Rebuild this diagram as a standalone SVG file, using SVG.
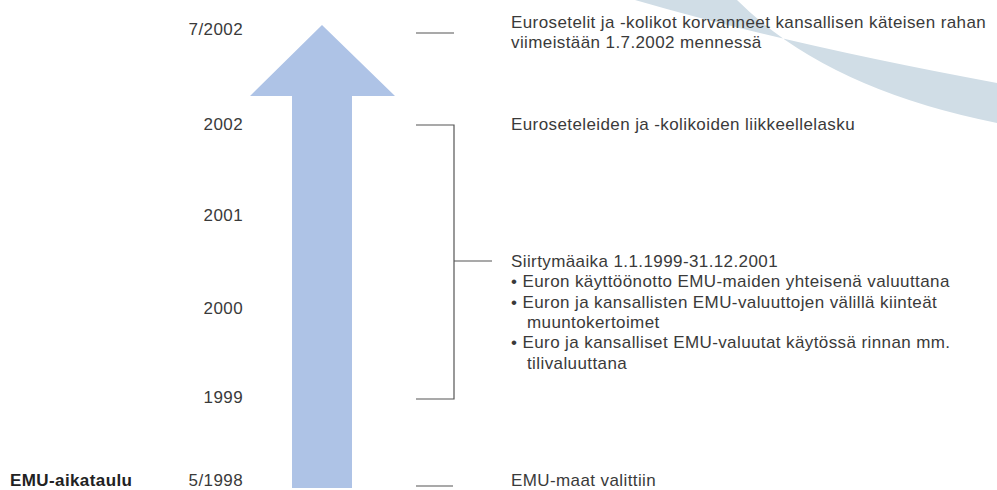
<svg xmlns="http://www.w3.org/2000/svg" width="997" height="490" viewBox="0 0 997 490">
<style>
text{font-family:"Liberation Sans",Arial,sans-serif;font-size:17px;fill:#3a3a3a;letter-spacing:0.4px}
.yr{text-anchor:end}
.b{font-weight:bold;fill:#222}
.ln{stroke:#555;stroke-width:1.2;fill:none}
</style>
<rect width="997" height="490" fill="#fff"/>
<path id="band" d="M635 0 Q790 45 997 83 L997 123 Q826 89 737 0 Z" fill="#d0dde6"/>
<g id="arrow"><polygon points="322,25 395,96 352,96 352,488 292,488 292,96 250,96" fill="#aec3e6"/></g>
<g id="title"><text class="b" x="10" y="486">EMU-aikataulu</text></g>
<g id="years">
<text class="yr" x="243" y="35">7/2002</text>
<text class="yr" x="243" y="130">2002</text>
<text class="yr" x="243" y="221">2001</text>
<text class="yr" x="243" y="314">2000</text>
<text class="yr" x="243" y="403">1999</text>
<text class="yr" x="243" y="486">5/1998</text>
</g>
<g id="connectors">
<line class="ln" x1="416" y1="33" x2="454" y2="33"/>
<polyline class="ln" points="416,125 454,125 454,399 416,399"/>
<line class="ln" x1="454" y1="261" x2="492" y2="261"/>
<line class="ln" x1="416" y1="486" x2="453" y2="486"/>
</g>
<g id="n-2002b">
<text x="511" y="28">Eurosetelit ja -kolikot korvanneet kansallisen käteisen rahan</text>
<text x="511" y="48">viimeistään 1.7.2002 mennessä</text>
</g>
<g id="n-2002"><text x="511" y="130">Euroseteleiden ja -kolikoiden liikkeellelasku</text></g>
<g id="n-transition">
<text x="511" y="267">Siirtymäaika 1.1.1999-31.12.2001</text>
<text x="511" y="287.3">• Euron käyttöönotto EMU-maiden yhteisenä valuuttana</text>
<text x="511" y="307.6">• Euron ja kansallisten EMU-valuuttojen välillä kiinteät</text>
<text x="527" y="327.9">muuntokertoimet</text>
<text x="511" y="348.2">• Euro ja kansalliset EMU-valuutat käytössä rinnan mm.</text>
<text x="527" y="368.5">tilivaluuttana</text>
</g>
<g id="n-1998"><text x="511" y="486">EMU-maat valittiin</text></g>
</svg>
